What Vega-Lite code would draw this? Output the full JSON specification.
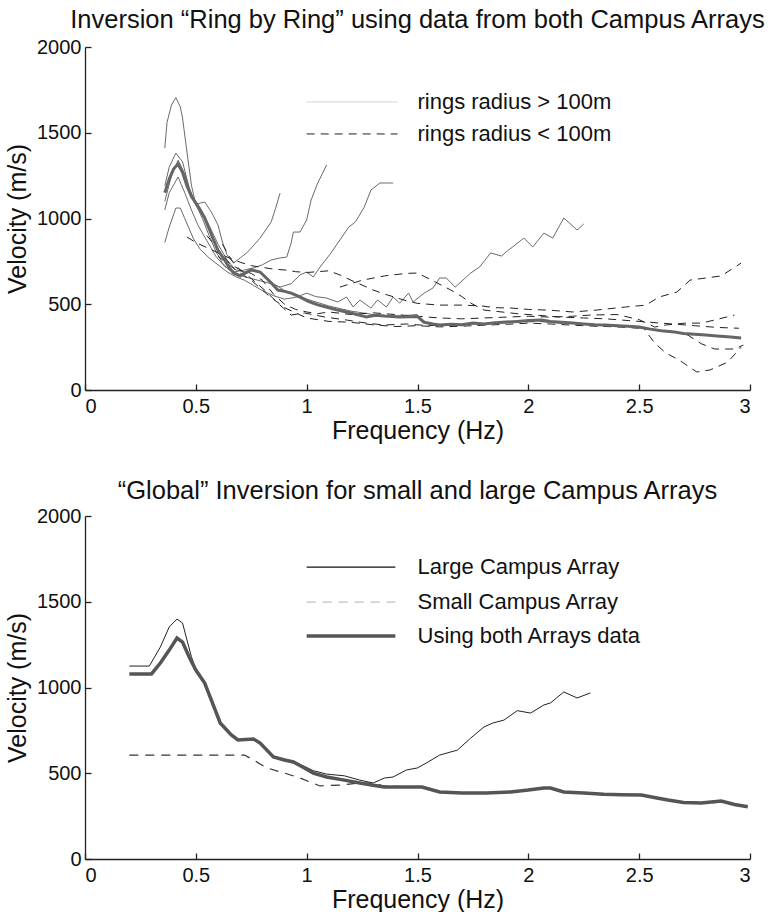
{
  "$schema": "https://vega.github.io/schema/vega-lite/v6.json",
  "background": "white",
  "padding": {"left": 5, "top": 7, "right": 0, "bottom": 0},
  "config": {
    "font": "Liberation Sans",
    "view": {"stroke": null},
    "title": {"font": "Liberation Sans", "fontSize": 25.5, "fontWeight": "normal", "color": "#111", "offset": 4, "frame": "group"},
    "axis": {
      "grid": false,
      "domainColor": "#222",
      "domainWidth": 1.3,
      "ticks": true,
      "tickColor": "#222",
      "tickWidth": 1.3,
      "tickSize": -6,
      "tickOpacity": 1,
      "labelFont": "Liberation Sans",
      "labelFontSize": 20,
      "labelColor": "#111",
      "titleFont": "Liberation Sans",
      "titleFontSize": 25,
      "titleFontWeight": "normal",
      "titleColor": "#111"
    }
  },
  "datasets": {
    "rings": [
      {"ring": "S1", "group": "rings radius > 100m", "f": 0.36, "v": 1411},
      {"ring": "S1", "group": "rings radius > 100m", "f": 0.37, "v": 1560},
      {"ring": "S1", "group": "rings radius > 100m", "f": 0.39, "v": 1661},
      {"ring": "S1", "group": "rings radius > 100m", "f": 0.41, "v": 1705},
      {"ring": "S1", "group": "rings radius > 100m", "f": 0.43, "v": 1650},
      {"ring": "S1", "group": "rings radius > 100m", "f": 0.44, "v": 1586},
      {"ring": "S1", "group": "rings radius > 100m", "f": 0.46, "v": 1388},
      {"ring": "S1", "group": "rings radius > 100m", "f": 0.48, "v": 1195},
      {"ring": "S1", "group": "rings radius > 100m", "f": 0.50, "v": 1079},
      {"ring": "S1", "group": "rings radius > 100m", "f": 0.52, "v": 1090},
      {"ring": "S1", "group": "rings radius > 100m", "f": 0.54, "v": 1096},
      {"ring": "S1", "group": "rings radius > 100m", "f": 0.57, "v": 1038},
      {"ring": "S1", "group": "rings radius > 100m", "f": 0.60, "v": 962},
      {"ring": "S1", "group": "rings radius > 100m", "f": 0.62, "v": 863},
      {"ring": "S1", "group": "rings radius > 100m", "f": 0.64, "v": 790},
      {"ring": "S1", "group": "rings radius > 100m", "f": 0.67, "v": 740},
      {"ring": "S1", "group": "rings radius > 100m", "f": 0.70, "v": 770},
      {"ring": "S1", "group": "rings radius > 100m", "f": 0.73, "v": 800},
      {"ring": "S1", "group": "rings radius > 100m", "f": 0.75, "v": 828},
      {"ring": "S1", "group": "rings radius > 100m", "f": 0.79, "v": 886},
      {"ring": "S1", "group": "rings radius > 100m", "f": 0.84, "v": 980},
      {"ring": "S1", "group": "rings radius > 100m", "f": 0.86, "v": 1060},
      {"ring": "S1", "group": "rings radius > 100m", "f": 0.88, "v": 1148},

      {"ring": "S2", "group": "rings radius > 100m", "f": 0.36, "v": 1190},
      {"ring": "S2", "group": "rings radius > 100m", "f": 0.38, "v": 1300},
      {"ring": "S2", "group": "rings radius > 100m", "f": 0.41, "v": 1382},
      {"ring": "S2", "group": "rings radius > 100m", "f": 0.44, "v": 1330},
      {"ring": "S2", "group": "rings radius > 100m", "f": 0.47, "v": 1180},
      {"ring": "S2", "group": "rings radius > 100m", "f": 0.50, "v": 1080},
      {"ring": "S2", "group": "rings radius > 100m", "f": 0.53, "v": 1000},
      {"ring": "S2", "group": "rings radius > 100m", "f": 0.56, "v": 900},
      {"ring": "S2", "group": "rings radius > 100m", "f": 0.59, "v": 810},
      {"ring": "S2", "group": "rings radius > 100m", "f": 0.62, "v": 740},
      {"ring": "S2", "group": "rings radius > 100m", "f": 0.65, "v": 700},
      {"ring": "S2", "group": "rings radius > 100m", "f": 0.68, "v": 690},
      {"ring": "S2", "group": "rings radius > 100m", "f": 0.72, "v": 700},
      {"ring": "S2", "group": "rings radius > 100m", "f": 0.76, "v": 712},
      {"ring": "S2", "group": "rings radius > 100m", "f": 0.80, "v": 730},
      {"ring": "S2", "group": "rings radius > 100m", "f": 0.84, "v": 758},
      {"ring": "S2", "group": "rings radius > 100m", "f": 0.88, "v": 770},
      {"ring": "S2", "group": "rings radius > 100m", "f": 0.91, "v": 775},
      {"ring": "S2", "group": "rings radius > 100m", "f": 0.93, "v": 857},
      {"ring": "S2", "group": "rings radius > 100m", "f": 0.94, "v": 921},
      {"ring": "S2", "group": "rings radius > 100m", "f": 0.97, "v": 921},
      {"ring": "S2", "group": "rings radius > 100m", "f": 1.00, "v": 991},
      {"ring": "S2", "group": "rings radius > 100m", "f": 1.02, "v": 1108},
      {"ring": "S2", "group": "rings radius > 100m", "f": 1.05, "v": 1207},
      {"ring": "S2", "group": "rings radius > 100m", "f": 1.09, "v": 1312},

      {"ring": "S3", "group": "rings radius > 100m", "f": 0.36, "v": 1050},
      {"ring": "S3", "group": "rings radius > 100m", "f": 0.38, "v": 1150},
      {"ring": "S3", "group": "rings radius > 100m", "f": 0.42, "v": 1242},
      {"ring": "S3", "group": "rings radius > 100m", "f": 0.45, "v": 1150},
      {"ring": "S3", "group": "rings radius > 100m", "f": 0.48, "v": 1050},
      {"ring": "S3", "group": "rings radius > 100m", "f": 0.51, "v": 960},
      {"ring": "S3", "group": "rings radius > 100m", "f": 0.55, "v": 870},
      {"ring": "S3", "group": "rings radius > 100m", "f": 0.59, "v": 780},
      {"ring": "S3", "group": "rings radius > 100m", "f": 0.63, "v": 720},
      {"ring": "S3", "group": "rings radius > 100m", "f": 0.67, "v": 690},
      {"ring": "S3", "group": "rings radius > 100m", "f": 0.72, "v": 660},
      {"ring": "S3", "group": "rings radius > 100m", "f": 0.78, "v": 640},
      {"ring": "S3", "group": "rings radius > 100m", "f": 0.84, "v": 620},
      {"ring": "S3", "group": "rings radius > 100m", "f": 0.88, "v": 600},
      {"ring": "S3", "group": "rings radius > 100m", "f": 0.93, "v": 620},
      {"ring": "S3", "group": "rings radius > 100m", "f": 0.97, "v": 671},
      {"ring": "S3", "group": "rings radius > 100m", "f": 1.00, "v": 688},
      {"ring": "S3", "group": "rings radius > 100m", "f": 1.03, "v": 659},
      {"ring": "S3", "group": "rings radius > 100m", "f": 1.06, "v": 717},
      {"ring": "S3", "group": "rings radius > 100m", "f": 1.11, "v": 799},
      {"ring": "S3", "group": "rings radius > 100m", "f": 1.15, "v": 875},
      {"ring": "S3", "group": "rings radius > 100m", "f": 1.19, "v": 950},
      {"ring": "S3", "group": "rings radius > 100m", "f": 1.22, "v": 980},
      {"ring": "S3", "group": "rings radius > 100m", "f": 1.26, "v": 1067},
      {"ring": "S3", "group": "rings radius > 100m", "f": 1.29, "v": 1166},
      {"ring": "S3", "group": "rings radius > 100m", "f": 1.33, "v": 1207},
      {"ring": "S3", "group": "rings radius > 100m", "f": 1.39, "v": 1207},

      {"ring": "S4", "group": "rings radius > 100m", "f": 0.36, "v": 860},
      {"ring": "S4", "group": "rings radius > 100m", "f": 0.38, "v": 950},
      {"ring": "S4", "group": "rings radius > 100m", "f": 0.41, "v": 1061},
      {"ring": "S4", "group": "rings radius > 100m", "f": 0.43, "v": 1061},
      {"ring": "S4", "group": "rings radius > 100m", "f": 0.45, "v": 1000},
      {"ring": "S4", "group": "rings radius > 100m", "f": 0.47, "v": 940},
      {"ring": "S4", "group": "rings radius > 100m", "f": 0.49, "v": 880},
      {"ring": "S4", "group": "rings radius > 100m", "f": 0.52, "v": 820},
      {"ring": "S4", "group": "rings radius > 100m", "f": 0.56, "v": 770},
      {"ring": "S4", "group": "rings radius > 100m", "f": 0.60, "v": 730},
      {"ring": "S4", "group": "rings radius > 100m", "f": 0.64, "v": 690},
      {"ring": "S4", "group": "rings radius > 100m", "f": 0.68, "v": 660},
      {"ring": "S4", "group": "rings radius > 100m", "f": 0.72, "v": 640},
      {"ring": "S4", "group": "rings radius > 100m", "f": 0.76, "v": 610},
      {"ring": "S4", "group": "rings radius > 100m", "f": 0.80, "v": 580},
      {"ring": "S4", "group": "rings radius > 100m", "f": 0.85, "v": 550},
      {"ring": "S4", "group": "rings radius > 100m", "f": 0.90, "v": 530},
      {"ring": "S4", "group": "rings radius > 100m", "f": 0.95, "v": 540},
      {"ring": "S4", "group": "rings radius > 100m", "f": 1.00, "v": 565},
      {"ring": "S4", "group": "rings radius > 100m", "f": 1.04, "v": 545},
      {"ring": "S4", "group": "rings radius > 100m", "f": 1.09, "v": 536},
      {"ring": "S4", "group": "rings radius > 100m", "f": 1.14, "v": 513},
      {"ring": "S4", "group": "rings radius > 100m", "f": 1.18, "v": 542},
      {"ring": "S4", "group": "rings radius > 100m", "f": 1.21, "v": 484},
      {"ring": "S4", "group": "rings radius > 100m", "f": 1.24, "v": 525},
      {"ring": "S4", "group": "rings radius > 100m", "f": 1.29, "v": 478},
      {"ring": "S4", "group": "rings radius > 100m", "f": 1.32, "v": 525},
      {"ring": "S4", "group": "rings radius > 100m", "f": 1.36, "v": 484},
      {"ring": "S4", "group": "rings radius > 100m", "f": 1.39, "v": 542},
      {"ring": "S4", "group": "rings radius > 100m", "f": 1.42, "v": 507},
      {"ring": "S4", "group": "rings radius > 100m", "f": 1.46, "v": 565},
      {"ring": "S4", "group": "rings radius > 100m", "f": 1.48, "v": 513},
      {"ring": "S4", "group": "rings radius > 100m", "f": 1.53, "v": 565},
      {"ring": "S4", "group": "rings radius > 100m", "f": 1.57, "v": 595},
      {"ring": "S4", "group": "rings radius > 100m", "f": 1.60, "v": 653},
      {"ring": "S4", "group": "rings radius > 100m", "f": 1.63, "v": 653},
      {"ring": "S4", "group": "rings radius > 100m", "f": 1.67, "v": 600},
      {"ring": "S4", "group": "rings radius > 100m", "f": 1.74, "v": 682},
      {"ring": "S4", "group": "rings radius > 100m", "f": 1.78, "v": 717},
      {"ring": "S4", "group": "rings radius > 100m", "f": 1.83, "v": 799},
      {"ring": "S4", "group": "rings radius > 100m", "f": 1.88, "v": 781},
      {"ring": "S4", "group": "rings radius > 100m", "f": 1.90, "v": 805},
      {"ring": "S4", "group": "rings radius > 100m", "f": 1.94, "v": 845},
      {"ring": "S4", "group": "rings radius > 100m", "f": 1.98, "v": 886},
      {"ring": "S4", "group": "rings radius > 100m", "f": 2.02, "v": 834},
      {"ring": "S4", "group": "rings radius > 100m", "f": 2.07, "v": 915},
      {"ring": "S4", "group": "rings radius > 100m", "f": 2.11, "v": 886},
      {"ring": "S4", "group": "rings radius > 100m", "f": 2.16, "v": 1003},
      {"ring": "S4", "group": "rings radius > 100m", "f": 2.22, "v": 933},
      {"ring": "S4", "group": "rings radius > 100m", "f": 2.25, "v": 968},

      {"ring": "S5", "group": "rings radius > 100m", "f": 0.36, "v": 1100},
      {"ring": "S5", "group": "rings radius > 100m", "f": 0.39, "v": 1250},
      {"ring": "S5", "group": "rings radius > 100m", "f": 0.42, "v": 1340},
      {"ring": "S5", "group": "rings radius > 100m", "f": 0.45, "v": 1260},
      {"ring": "S5", "group": "rings radius > 100m", "f": 0.48, "v": 1140},
      {"ring": "S5", "group": "rings radius > 100m", "f": 0.52, "v": 1060},
      {"ring": "S5", "group": "rings radius > 100m", "f": 0.56, "v": 960},
      {"ring": "S5", "group": "rings radius > 100m", "f": 0.60, "v": 850},
      {"ring": "S5", "group": "rings radius > 100m", "f": 0.64, "v": 760},
      {"ring": "S5", "group": "rings radius > 100m", "f": 0.68, "v": 700},
      {"ring": "S5", "group": "rings radius > 100m", "f": 0.72, "v": 690},
      {"ring": "S5", "group": "rings radius > 100m", "f": 0.76, "v": 700},
      {"ring": "S5", "group": "rings radius > 100m", "f": 0.80, "v": 680},
      {"ring": "S5", "group": "rings radius > 100m", "f": 0.85, "v": 620},
      {"ring": "S5", "group": "rings radius > 100m", "f": 0.90, "v": 580},
      {"ring": "S5", "group": "rings radius > 100m", "f": 0.95, "v": 560},
      {"ring": "S5", "group": "rings radius > 100m", "f": 1.00, "v": 530},
      {"ring": "S5", "group": "rings radius > 100m", "f": 1.10, "v": 490},
      {"ring": "S5", "group": "rings radius > 100m", "f": 1.20, "v": 460},
      {"ring": "S5", "group": "rings radius > 100m", "f": 1.30, "v": 440},
      {"ring": "S5", "group": "rings radius > 100m", "f": 1.40, "v": 430},
      {"ring": "S5", "group": "rings radius > 100m", "f": 1.50, "v": 440},

      {"ring": "D1", "group": "rings radius < 100m", "f": 0.46, "v": 892},
      {"ring": "D1", "group": "rings radius < 100m", "f": 0.50, "v": 860},
      {"ring": "D1", "group": "rings radius < 100m", "f": 0.55, "v": 830},
      {"ring": "D1", "group": "rings radius < 100m", "f": 0.60, "v": 800},
      {"ring": "D1", "group": "rings radius < 100m", "f": 0.65, "v": 770},
      {"ring": "D1", "group": "rings radius < 100m", "f": 0.70, "v": 745},
      {"ring": "D1", "group": "rings radius < 100m", "f": 0.75, "v": 725},
      {"ring": "D1", "group": "rings radius < 100m", "f": 0.80, "v": 715},
      {"ring": "D1", "group": "rings radius < 100m", "f": 0.85, "v": 705},
      {"ring": "D1", "group": "rings radius < 100m", "f": 0.90, "v": 700},
      {"ring": "D1", "group": "rings radius < 100m", "f": 0.95, "v": 690},
      {"ring": "D1", "group": "rings radius < 100m", "f": 1.00, "v": 685},
      {"ring": "D1", "group": "rings radius < 100m", "f": 1.05, "v": 690},
      {"ring": "D1", "group": "rings radius < 100m", "f": 1.10, "v": 695},
      {"ring": "D1", "group": "rings radius < 100m", "f": 1.15, "v": 671},
      {"ring": "D1", "group": "rings radius < 100m", "f": 1.20, "v": 640},
      {"ring": "D1", "group": "rings radius < 100m", "f": 1.25, "v": 612},
      {"ring": "D1", "group": "rings radius < 100m", "f": 1.30, "v": 583},
      {"ring": "D1", "group": "rings radius < 100m", "f": 1.35, "v": 560},
      {"ring": "D1", "group": "rings radius < 100m", "f": 1.40, "v": 540},
      {"ring": "D1", "group": "rings radius < 100m", "f": 1.45, "v": 520},
      {"ring": "D1", "group": "rings radius < 100m", "f": 1.50, "v": 505},
      {"ring": "D1", "group": "rings radius < 100m", "f": 1.60, "v": 495},
      {"ring": "D1", "group": "rings radius < 100m", "f": 1.70, "v": 495},
      {"ring": "D1", "group": "rings radius < 100m", "f": 1.79, "v": 490},
      {"ring": "D1", "group": "rings radius < 100m", "f": 1.85, "v": 480},
      {"ring": "D1", "group": "rings radius < 100m", "f": 1.92, "v": 478},
      {"ring": "D1", "group": "rings radius < 100m", "f": 2.00, "v": 470},
      {"ring": "D1", "group": "rings radius < 100m", "f": 2.10, "v": 465},
      {"ring": "D1", "group": "rings radius < 100m", "f": 2.20, "v": 455},
      {"ring": "D1", "group": "rings radius < 100m", "f": 2.30, "v": 465},
      {"ring": "D1", "group": "rings radius < 100m", "f": 2.35, "v": 472},
      {"ring": "D1", "group": "rings radius < 100m", "f": 2.44, "v": 484},
      {"ring": "D1", "group": "rings radius < 100m", "f": 2.53, "v": 495},
      {"ring": "D1", "group": "rings radius < 100m", "f": 2.59, "v": 542},
      {"ring": "D1", "group": "rings radius < 100m", "f": 2.67, "v": 571},
      {"ring": "D1", "group": "rings radius < 100m", "f": 2.73, "v": 641},
      {"ring": "D1", "group": "rings radius < 100m", "f": 2.80, "v": 653},
      {"ring": "D1", "group": "rings radius < 100m", "f": 2.87, "v": 665},
      {"ring": "D1", "group": "rings radius < 100m", "f": 2.96, "v": 740},

      {"ring": "D2", "group": "rings radius < 100m", "f": 0.62, "v": 850},
      {"ring": "D2", "group": "rings radius < 100m", "f": 0.66, "v": 760},
      {"ring": "D2", "group": "rings radius < 100m", "f": 0.70, "v": 700},
      {"ring": "D2", "group": "rings radius < 100m", "f": 0.75, "v": 650},
      {"ring": "D2", "group": "rings radius < 100m", "f": 0.81, "v": 583},
      {"ring": "D2", "group": "rings radius < 100m", "f": 0.87, "v": 507},
      {"ring": "D2", "group": "rings radius < 100m", "f": 0.93, "v": 437},
      {"ring": "D2", "group": "rings radius < 100m", "f": 0.99, "v": 449},
      {"ring": "D2", "group": "rings radius < 100m", "f": 1.08, "v": 426},
      {"ring": "D2", "group": "rings radius < 100m", "f": 1.18, "v": 408},
      {"ring": "D2", "group": "rings radius < 100m", "f": 1.27, "v": 390},
      {"ring": "D2", "group": "rings radius < 100m", "f": 1.35, "v": 379},
      {"ring": "D2", "group": "rings radius < 100m", "f": 1.45, "v": 385},
      {"ring": "D2", "group": "rings radius < 100m", "f": 1.55, "v": 375},
      {"ring": "D2", "group": "rings radius < 100m", "f": 1.65, "v": 380},
      {"ring": "D2", "group": "rings radius < 100m", "f": 1.75, "v": 385},
      {"ring": "D2", "group": "rings radius < 100m", "f": 1.85, "v": 390},
      {"ring": "D2", "group": "rings radius < 100m", "f": 1.95, "v": 395},
      {"ring": "D2", "group": "rings radius < 100m", "f": 2.05, "v": 400},
      {"ring": "D2", "group": "rings radius < 100m", "f": 2.15, "v": 390},
      {"ring": "D2", "group": "rings radius < 100m", "f": 2.25, "v": 385},
      {"ring": "D2", "group": "rings radius < 100m", "f": 2.35, "v": 380},
      {"ring": "D2", "group": "rings radius < 100m", "f": 2.45, "v": 375},
      {"ring": "D2", "group": "rings radius < 100m", "f": 2.52, "v": 360},
      {"ring": "D2", "group": "rings radius < 100m", "f": 2.55, "v": 309},
      {"ring": "D2", "group": "rings radius < 100m", "f": 2.57, "v": 274},
      {"ring": "D2", "group": "rings radius < 100m", "f": 2.62, "v": 216},
      {"ring": "D2", "group": "rings radius < 100m", "f": 2.68, "v": 175},
      {"ring": "D2", "group": "rings radius < 100m", "f": 2.76, "v": 105},
      {"ring": "D2", "group": "rings radius < 100m", "f": 2.82, "v": 117},
      {"ring": "D2", "group": "rings radius < 100m", "f": 2.90, "v": 163},
      {"ring": "D2", "group": "rings radius < 100m", "f": 2.96, "v": 250},

      {"ring": "D3", "group": "rings radius < 100m", "f": 0.55, "v": 900},
      {"ring": "D3", "group": "rings radius < 100m", "f": 0.60, "v": 820},
      {"ring": "D3", "group": "rings radius < 100m", "f": 0.65, "v": 740},
      {"ring": "D3", "group": "rings radius < 100m", "f": 0.70, "v": 700},
      {"ring": "D3", "group": "rings radius < 100m", "f": 0.75, "v": 680},
      {"ring": "D3", "group": "rings radius < 100m", "f": 0.80, "v": 640},
      {"ring": "D3", "group": "rings radius < 100m", "f": 0.85, "v": 560},
      {"ring": "D3", "group": "rings radius < 100m", "f": 0.90, "v": 500},
      {"ring": "D3", "group": "rings radius < 100m", "f": 0.95, "v": 470},
      {"ring": "D3", "group": "rings radius < 100m", "f": 1.00, "v": 455},
      {"ring": "D3", "group": "rings radius < 100m", "f": 1.05, "v": 445},
      {"ring": "D3", "group": "rings radius < 100m", "f": 1.10, "v": 455},
      {"ring": "D3", "group": "rings radius < 100m", "f": 1.20, "v": 440},
      {"ring": "D3", "group": "rings radius < 100m", "f": 1.30, "v": 450},
      {"ring": "D3", "group": "rings radius < 100m", "f": 1.40, "v": 440},
      {"ring": "D3", "group": "rings radius < 100m", "f": 1.50, "v": 430},
      {"ring": "D3", "group": "rings radius < 100m", "f": 1.60, "v": 420},
      {"ring": "D3", "group": "rings radius < 100m", "f": 1.70, "v": 415},
      {"ring": "D3", "group": "rings radius < 100m", "f": 1.80, "v": 420},
      {"ring": "D3", "group": "rings radius < 100m", "f": 1.90, "v": 425},
      {"ring": "D3", "group": "rings radius < 100m", "f": 2.00, "v": 430},
      {"ring": "D3", "group": "rings radius < 100m", "f": 2.10, "v": 425},
      {"ring": "D3", "group": "rings radius < 100m", "f": 2.20, "v": 430},
      {"ring": "D3", "group": "rings radius < 100m", "f": 2.28, "v": 437},
      {"ring": "D3", "group": "rings radius < 100m", "f": 2.40, "v": 440},
      {"ring": "D3", "group": "rings radius < 100m", "f": 2.50, "v": 410},
      {"ring": "D3", "group": "rings radius < 100m", "f": 2.57, "v": 367},
      {"ring": "D3", "group": "rings radius < 100m", "f": 2.62, "v": 379},
      {"ring": "D3", "group": "rings radius < 100m", "f": 2.71, "v": 390},
      {"ring": "D3", "group": "rings radius < 100m", "f": 2.78, "v": 390},
      {"ring": "D3", "group": "rings radius < 100m", "f": 2.84, "v": 408},
      {"ring": "D3", "group": "rings radius < 100m", "f": 2.93, "v": 437},

      {"ring": "D4", "group": "rings radius < 100m", "f": 0.60, "v": 780},
      {"ring": "D4", "group": "rings radius < 100m", "f": 0.68, "v": 700},
      {"ring": "D4", "group": "rings radius < 100m", "f": 0.75, "v": 640},
      {"ring": "D4", "group": "rings radius < 100m", "f": 0.82, "v": 560},
      {"ring": "D4", "group": "rings radius < 100m", "f": 0.90, "v": 480},
      {"ring": "D4", "group": "rings radius < 100m", "f": 1.00, "v": 420},
      {"ring": "D4", "group": "rings radius < 100m", "f": 1.10, "v": 400},
      {"ring": "D4", "group": "rings radius < 100m", "f": 1.20, "v": 395},
      {"ring": "D4", "group": "rings radius < 100m", "f": 1.30, "v": 380},
      {"ring": "D4", "group": "rings radius < 100m", "f": 1.40, "v": 370},
      {"ring": "D4", "group": "rings radius < 100m", "f": 1.50, "v": 375},
      {"ring": "D4", "group": "rings radius < 100m", "f": 1.60, "v": 368},
      {"ring": "D4", "group": "rings radius < 100m", "f": 1.70, "v": 372},
      {"ring": "D4", "group": "rings radius < 100m", "f": 1.80, "v": 378},
      {"ring": "D4", "group": "rings radius < 100m", "f": 1.90, "v": 383},
      {"ring": "D4", "group": "rings radius < 100m", "f": 2.00, "v": 390},
      {"ring": "D4", "group": "rings radius < 100m", "f": 2.10, "v": 385},
      {"ring": "D4", "group": "rings radius < 100m", "f": 2.20, "v": 378},
      {"ring": "D4", "group": "rings radius < 100m", "f": 2.30, "v": 372},
      {"ring": "D4", "group": "rings radius < 100m", "f": 2.40, "v": 368},
      {"ring": "D4", "group": "rings radius < 100m", "f": 2.50, "v": 360},
      {"ring": "D4", "group": "rings radius < 100m", "f": 2.58, "v": 350},
      {"ring": "D4", "group": "rings radius < 100m", "f": 2.66, "v": 340},
      {"ring": "D4", "group": "rings radius < 100m", "f": 2.72, "v": 320},
      {"ring": "D4", "group": "rings radius < 100m", "f": 2.78, "v": 270},
      {"ring": "D4", "group": "rings radius < 100m", "f": 2.84, "v": 239},
      {"ring": "D4", "group": "rings radius < 100m", "f": 2.93, "v": 239},
      {"ring": "D4", "group": "rings radius < 100m", "f": 2.97, "v": 262},

      {"ring": "D5", "group": "rings radius < 100m", "f": 1.15, "v": 600},
      {"ring": "D5", "group": "rings radius < 100m", "f": 1.25, "v": 640},
      {"ring": "D5", "group": "rings radius < 100m", "f": 1.35, "v": 665},
      {"ring": "D5", "group": "rings radius < 100m", "f": 1.45, "v": 680},
      {"ring": "D5", "group": "rings radius < 100m", "f": 1.50, "v": 682},
      {"ring": "D5", "group": "rings radius < 100m", "f": 1.58, "v": 630},
      {"ring": "D5", "group": "rings radius < 100m", "f": 1.65, "v": 583},
      {"ring": "D5", "group": "rings radius < 100m", "f": 1.70, "v": 545},
      {"ring": "D5", "group": "rings radius < 100m", "f": 1.74, "v": 507},
      {"ring": "D5", "group": "rings radius < 100m", "f": 1.80, "v": 466},
      {"ring": "D5", "group": "rings radius < 100m", "f": 1.88, "v": 455},
      {"ring": "D5", "group": "rings radius < 100m", "f": 1.95, "v": 445},
      {"ring": "D5", "group": "rings radius < 100m", "f": 2.05, "v": 435},
      {"ring": "D5", "group": "rings radius < 100m", "f": 2.15, "v": 425},
      {"ring": "D5", "group": "rings radius < 100m", "f": 2.25, "v": 420},
      {"ring": "D5", "group": "rings radius < 100m", "f": 2.35, "v": 415},
      {"ring": "D5", "group": "rings radius < 100m", "f": 2.45, "v": 405},
      {"ring": "D5", "group": "rings radius < 100m", "f": 2.55, "v": 395},
      {"ring": "D5", "group": "rings radius < 100m", "f": 2.65, "v": 385},
      {"ring": "D5", "group": "rings radius < 100m", "f": 2.75, "v": 375},
      {"ring": "D5", "group": "rings radius < 100m", "f": 2.85, "v": 365},
      {"ring": "D5", "group": "rings radius < 100m", "f": 2.95, "v": 360}
    ],
    "ringsBoth": [
      {"f": 0.36, "v": 1150}, {"f": 0.38, "v": 1230}, {"f": 0.40, "v": 1290}, {"f": 0.42, "v": 1318},
      {"f": 0.44, "v": 1270}, {"f": 0.46, "v": 1190}, {"f": 0.48, "v": 1130}, {"f": 0.50, "v": 1090},
      {"f": 0.52, "v": 1050}, {"f": 0.54, "v": 1003}, {"f": 0.56, "v": 940}, {"f": 0.58, "v": 875},
      {"f": 0.60, "v": 815}, {"f": 0.63, "v": 758}, {"f": 0.65, "v": 715}, {"f": 0.67, "v": 682},
      {"f": 0.70, "v": 665}, {"f": 0.72, "v": 680}, {"f": 0.75, "v": 700}, {"f": 0.79, "v": 688},
      {"f": 0.82, "v": 650}, {"f": 0.84, "v": 624}, {"f": 0.87, "v": 583}, {"f": 0.90, "v": 575},
      {"f": 0.93, "v": 565}, {"f": 0.97, "v": 542}, {"f": 1.01, "v": 515}, {"f": 1.05, "v": 496},
      {"f": 1.10, "v": 480}, {"f": 1.14, "v": 466}, {"f": 1.20, "v": 449}, {"f": 1.27, "v": 426},
      {"f": 1.31, "v": 436}, {"f": 1.35, "v": 431}, {"f": 1.42, "v": 426}, {"f": 1.50, "v": 428},
      {"f": 1.53, "v": 395}, {"f": 1.57, "v": 385}, {"f": 1.60, "v": 379}, {"f": 1.65, "v": 383},
      {"f": 1.70, "v": 380}, {"f": 1.75, "v": 390}, {"f": 1.80, "v": 385}, {"f": 1.85, "v": 392},
      {"f": 1.90, "v": 396}, {"f": 1.95, "v": 400}, {"f": 2.00, "v": 405}, {"f": 2.06, "v": 408},
      {"f": 2.10, "v": 400}, {"f": 2.15, "v": 395}, {"f": 2.20, "v": 390}, {"f": 2.25, "v": 385},
      {"f": 2.30, "v": 380}, {"f": 2.35, "v": 379}, {"f": 2.40, "v": 375}, {"f": 2.45, "v": 372},
      {"f": 2.50, "v": 367}, {"f": 2.55, "v": 355}, {"f": 2.60, "v": 345}, {"f": 2.66, "v": 338},
      {"f": 2.70, "v": 330}, {"f": 2.75, "v": 325}, {"f": 2.80, "v": 320}, {"f": 2.85, "v": 315},
      {"f": 2.90, "v": 310}, {"f": 2.96, "v": 303}
    ],
    "campus": [
      {"array": "Small Campus Array", "f": 0.20, "v": 606},
      {"array": "Small Campus Array", "f": 0.72, "v": 606},
      {"array": "Small Campus Array", "f": 0.76, "v": 577},
      {"array": "Small Campus Array", "f": 0.82, "v": 531},
      {"array": "Small Campus Array", "f": 0.90, "v": 501},
      {"array": "Small Campus Array", "f": 0.97, "v": 472},
      {"array": "Small Campus Array", "f": 1.06, "v": 426},
      {"array": "Small Campus Array", "f": 1.15, "v": 431},
      {"array": "Small Campus Array", "f": 1.24, "v": 443},
      {"array": "Small Campus Array", "f": 1.30, "v": 443},
      {"array": "Small Campus Array", "f": 1.35, "v": 425},
      {"array": "Small Campus Array", "f": 1.50, "v": 420},
      {"array": "Small Campus Array", "f": 1.60, "v": 392},
      {"array": "Small Campus Array", "f": 1.70, "v": 386},
      {"array": "Small Campus Array", "f": 1.81, "v": 386},
      {"array": "Small Campus Array", "f": 1.92, "v": 392},
      {"array": "Small Campus Array", "f": 2.07, "v": 414},
      {"array": "Small Campus Array", "f": 2.16, "v": 391},
      {"array": "Small Campus Array", "f": 2.33, "v": 373},
      {"array": "Small Campus Array", "f": 2.49, "v": 373},
      {"array": "Small Campus Array", "f": 2.58, "v": 356},
      {"array": "Small Campus Array", "f": 2.66, "v": 332},
      {"array": "Small Campus Array", "f": 2.80, "v": 326},
      {"array": "Small Campus Array", "f": 2.88, "v": 332},
      {"array": "Small Campus Array", "f": 2.97, "v": 303},

      {"array": "Large Campus Array", "f": 0.20, "v": 1125},
      {"array": "Large Campus Array", "f": 0.29, "v": 1125},
      {"array": "Large Campus Array", "f": 0.34, "v": 1236},
      {"array": "Large Campus Array", "f": 0.38, "v": 1353},
      {"array": "Large Campus Array", "f": 0.415, "v": 1399},
      {"array": "Large Campus Array", "f": 0.44, "v": 1376},
      {"array": "Large Campus Array", "f": 0.46, "v": 1277},
      {"array": "Large Campus Array", "f": 0.48, "v": 1180},
      {"array": "Large Campus Array", "f": 0.50, "v": 1105},
      {"array": "Large Campus Array", "f": 0.54, "v": 1030},
      {"array": "Large Campus Array", "f": 0.57, "v": 930},
      {"array": "Large Campus Array", "f": 0.61, "v": 795},
      {"array": "Large Campus Array", "f": 0.66, "v": 725},
      {"array": "Large Campus Array", "f": 0.69, "v": 696},
      {"array": "Large Campus Array", "f": 0.76, "v": 702},
      {"array": "Large Campus Array", "f": 0.79, "v": 678},
      {"array": "Large Campus Array", "f": 0.85, "v": 600},
      {"array": "Large Campus Array", "f": 0.90, "v": 582},
      {"array": "Large Campus Array", "f": 0.94, "v": 570},
      {"array": "Large Campus Array", "f": 0.99, "v": 540},
      {"array": "Large Campus Array", "f": 1.03, "v": 515},
      {"array": "Large Campus Array", "f": 1.09, "v": 495},
      {"array": "Large Campus Array", "f": 1.17, "v": 485},
      {"array": "Large Campus Array", "f": 1.24, "v": 460},
      {"array": "Large Campus Array", "f": 1.30, "v": 443},
      {"array": "Large Campus Array", "f": 1.35, "v": 472},
      {"array": "Large Campus Array", "f": 1.39, "v": 478},
      {"array": "Large Campus Array", "f": 1.45, "v": 519},
      {"array": "Large Campus Array", "f": 1.50, "v": 531},
      {"array": "Large Campus Array", "f": 1.54, "v": 560},
      {"array": "Large Campus Array", "f": 1.60, "v": 606},
      {"array": "Large Campus Array", "f": 1.68, "v": 635},
      {"array": "Large Campus Array", "f": 1.74, "v": 705},
      {"array": "Large Campus Array", "f": 1.80, "v": 770},
      {"array": "Large Campus Array", "f": 1.84, "v": 793},
      {"array": "Large Campus Array", "f": 1.89, "v": 810},
      {"array": "Large Campus Array", "f": 1.95, "v": 865},
      {"array": "Large Campus Array", "f": 2.01, "v": 851},
      {"array": "Large Campus Array", "f": 2.07, "v": 898},
      {"array": "Large Campus Array", "f": 2.10, "v": 910},
      {"array": "Large Campus Array", "f": 2.16, "v": 974},
      {"array": "Large Campus Array", "f": 2.22, "v": 939},
      {"array": "Large Campus Array", "f": 2.28, "v": 968},

      {"array": "Using both Arrays data", "f": 0.20, "v": 1079},
      {"array": "Using both Arrays data", "f": 0.30, "v": 1079},
      {"array": "Using both Arrays data", "f": 0.34, "v": 1143},
      {"array": "Using both Arrays data", "f": 0.38, "v": 1218},
      {"array": "Using both Arrays data", "f": 0.415, "v": 1288},
      {"array": "Using both Arrays data", "f": 0.44, "v": 1265},
      {"array": "Using both Arrays data", "f": 0.47, "v": 1178},
      {"array": "Using both Arrays data", "f": 0.50, "v": 1102},
      {"array": "Using both Arrays data", "f": 0.54, "v": 1026},
      {"array": "Using both Arrays data", "f": 0.57, "v": 927},
      {"array": "Using both Arrays data", "f": 0.61, "v": 793},
      {"array": "Using both Arrays data", "f": 0.66, "v": 723},
      {"array": "Using both Arrays data", "f": 0.69, "v": 694},
      {"array": "Using both Arrays data", "f": 0.76, "v": 700},
      {"array": "Using both Arrays data", "f": 0.79, "v": 676},
      {"array": "Using both Arrays data", "f": 0.85, "v": 595},
      {"array": "Using both Arrays data", "f": 0.90, "v": 577},
      {"array": "Using both Arrays data", "f": 0.94, "v": 566},
      {"array": "Using both Arrays data", "f": 0.99, "v": 531},
      {"array": "Using both Arrays data", "f": 1.03, "v": 501},
      {"array": "Using both Arrays data", "f": 1.09, "v": 478},
      {"array": "Using both Arrays data", "f": 1.17, "v": 460},
      {"array": "Using both Arrays data", "f": 1.24, "v": 443},
      {"array": "Using both Arrays data", "f": 1.30, "v": 430},
      {"array": "Using both Arrays data", "f": 1.35, "v": 420},
      {"array": "Using both Arrays data", "f": 1.45, "v": 420},
      {"array": "Using both Arrays data", "f": 1.52, "v": 420},
      {"array": "Using both Arrays data", "f": 1.60, "v": 391},
      {"array": "Using both Arrays data", "f": 1.70, "v": 385},
      {"array": "Using both Arrays data", "f": 1.81, "v": 385},
      {"array": "Using both Arrays data", "f": 1.92, "v": 391},
      {"array": "Using both Arrays data", "f": 2.00, "v": 402},
      {"array": "Using both Arrays data", "f": 2.07, "v": 414},
      {"array": "Using both Arrays data", "f": 2.10, "v": 414},
      {"array": "Using both Arrays data", "f": 2.16, "v": 391},
      {"array": "Using both Arrays data", "f": 2.25, "v": 385},
      {"array": "Using both Arrays data", "f": 2.34, "v": 378},
      {"array": "Using both Arrays data", "f": 2.42, "v": 375},
      {"array": "Using both Arrays data", "f": 2.51, "v": 373},
      {"array": "Using both Arrays data", "f": 2.58, "v": 356},
      {"array": "Using both Arrays data", "f": 2.63, "v": 344},
      {"array": "Using both Arrays data", "f": 2.70, "v": 330},
      {"array": "Using both Arrays data", "f": 2.78, "v": 326},
      {"array": "Using both Arrays data", "f": 2.87, "v": 338},
      {"array": "Using both Arrays data", "f": 2.93, "v": 318},
      {"array": "Using both Arrays data", "f": 2.99, "v": 305}
    ]
  },
  "spacing": 35,
  "vconcat": [
    {
      "title": {"text": "Inversion “Ring by Ring” using data from both Campus Arrays", "offset": 4},
      "width": 665,
      "height": 343,
      "layer": [
        {
          "data": {"name": "rings"},
          "transform": [{"filter": "datum.group === 'rings radius > 100m'"}],
          "mark": {"type": "line", "strokeWidth": 1, "color": "#6a6a6a"},
          "encoding": {
            "x": {"field": "f", "type": "quantitative", "scale": {"domain": [0, 3], "nice": false},
                  "axis": {"title": "Frequency (Hz)", "values": [0, 0.5, 1, 1.5, 2, 2.5, 3], "format": "~g", "tickSize": -6, "labelPadding": 12, "titlePadding": 2}},
            "y": {"field": "v", "type": "quantitative", "scale": {"domain": [0, 2000], "nice": false},
                  "axis": {"title": "Velocity (m/s)", "values": [0, 500, 1000, 1500, 2000], "format": "d", "tickSize": -6, "labelPadding": 10, "titlePadding": 6}},
            "detail": {"field": "ring"}
          }
        },
        {
          "data": {"name": "rings"},
          "transform": [{"filter": "datum.group === 'rings radius < 100m'"}],
          "mark": {"type": "line", "strokeWidth": 1, "color": "#222222", "strokeDash": [8, 6]},
          "encoding": {
            "x": {"field": "f", "type": "quantitative"},
            "y": {"field": "v", "type": "quantitative"},
            "detail": {"field": "ring"}
          }
        },
        {
          "data": {"name": "ringsBoth"},
          "mark": {"type": "line", "strokeWidth": 3, "color": "#666666"},
          "encoding": {
            "x": {"field": "f", "type": "quantitative"},
            "y": {"field": "v", "type": "quantitative"}
          }
        },
        {
          "data": {"values": [{}]},
          "mark": {"type": "rule", "strokeWidth": 1, "color": "#d4d4d4"},
          "encoding": {"x": {"datum": 1.0}, "x2": {"datum": 1.41}, "y": {"datum": 1680}}
        },
        {
          "data": {"values": [{}]},
          "mark": {"type": "rule", "strokeWidth": 1, "color": "#222222", "strokeDash": [8, 6]},
          "encoding": {"x": {"datum": 1.0}, "x2": {"datum": 1.41}, "y": {"datum": 1493}}
        },
        {
          "data": {"values": [{}]},
          "mark": {"type": "text", "align": "left", "baseline": "middle", "fontSize": 22, "color": "#111"},
          "encoding": {"x": {"datum": 1.5}, "y": {"datum": 1680}, "text": {"value": "rings radius > 100m"}}
        },
        {
          "data": {"values": [{}]},
          "mark": {"type": "text", "align": "left", "baseline": "middle", "fontSize": 22, "color": "#111"},
          "encoding": {"x": {"datum": 1.5}, "y": {"datum": 1493}, "text": {"value": "rings radius < 100m"}}
        }
      ]
    },
    {
      "title": {"text": "“Global” Inversion for small and large Campus Arrays", "offset": 2},
      "width": 665,
      "height": 343,
      "layer": [
        {
          "data": {"name": "campus"},
          "transform": [{"filter": "datum.array === 'Small Campus Array'"}],
          "mark": {"type": "line", "strokeWidth": 1.2, "color": "#333333", "strokeDash": [9, 7]},
          "encoding": {
            "x": {"field": "f", "type": "quantitative", "scale": {"domain": [0, 3], "nice": false},
                  "axis": {"title": "Frequency (Hz)", "values": [0, 0.5, 1, 1.5, 2, 2.5, 3], "format": "~g", "tickSize": -6, "labelPadding": 12, "titlePadding": 2}},
            "y": {"field": "v", "type": "quantitative", "scale": {"domain": [0, 2000], "nice": false},
                  "axis": {"title": "Velocity (m/s)", "values": [0, 500, 1000, 1500, 2000], "format": "d", "tickSize": -6, "labelPadding": 10, "titlePadding": 6}}
          }
        },
        {
          "data": {"name": "campus"},
          "transform": [{"filter": "datum.array === 'Large Campus Array'"}],
          "mark": {"type": "line", "strokeWidth": 1, "color": "#222222"},
          "encoding": {
            "x": {"field": "f", "type": "quantitative"},
            "y": {"field": "v", "type": "quantitative"}
          }
        },
        {
          "data": {"name": "campus"},
          "transform": [{"filter": "datum.array === 'Using both Arrays data'"}],
          "mark": {"type": "line", "strokeWidth": 3.5, "color": "#555555"},
          "encoding": {
            "x": {"field": "f", "type": "quantitative"},
            "y": {"field": "v", "type": "quantitative"}
          }
        },
        {
          "data": {"values": [{}]},
          "mark": {"type": "rule", "strokeWidth": 1.2, "color": "#111111"},
          "encoding": {"x": {"datum": 1.0}, "x2": {"datum": 1.4}, "y": {"datum": 1702}}
        },
        {
          "data": {"values": [{}]},
          "mark": {"type": "rule", "strokeWidth": 1, "color": "#b0b0b0", "strokeDash": [9, 7]},
          "encoding": {"x": {"datum": 1.0}, "x2": {"datum": 1.4}, "y": {"datum": 1498}}
        },
        {
          "data": {"values": [{}]},
          "mark": {"type": "rule", "strokeWidth": 3.5, "color": "#555555"},
          "encoding": {"x": {"datum": 1.0}, "x2": {"datum": 1.4}, "y": {"datum": 1300}}
        },
        {
          "data": {"values": [{}]},
          "mark": {"type": "text", "align": "left", "baseline": "middle", "fontSize": 22, "color": "#111"},
          "encoding": {"x": {"datum": 1.5}, "y": {"datum": 1702}, "text": {"value": "Large Campus Array"}}
        },
        {
          "data": {"values": [{}]},
          "mark": {"type": "text", "align": "left", "baseline": "middle", "fontSize": 22, "color": "#111"},
          "encoding": {"x": {"datum": 1.5}, "y": {"datum": 1498}, "text": {"value": "Small Campus Array"}}
        },
        {
          "data": {"values": [{}]},
          "mark": {"type": "text", "align": "left", "baseline": "middle", "fontSize": 22, "color": "#111"},
          "encoding": {"x": {"datum": 1.5}, "y": {"datum": 1300}, "text": {"value": "Using both Arrays data"}}
        }
      ]
    }
  ]
}
